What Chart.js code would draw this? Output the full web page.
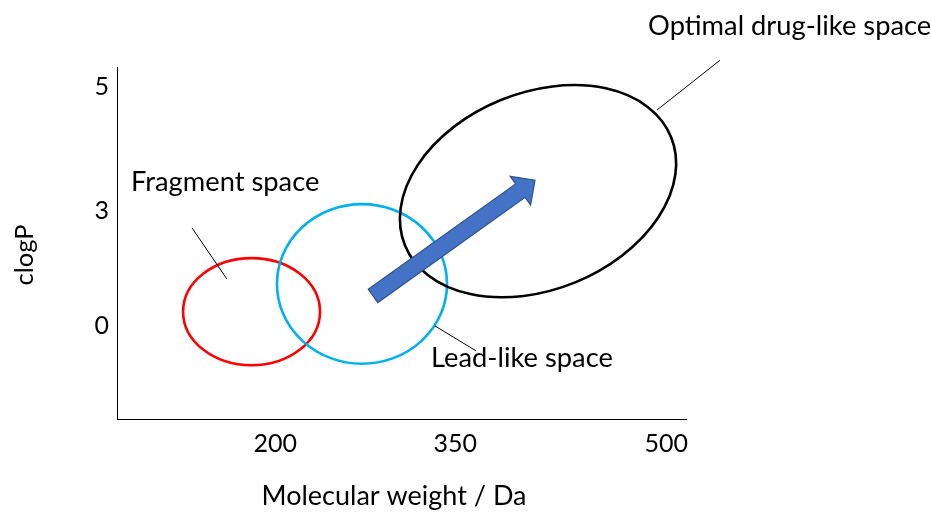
<!DOCTYPE html>
<html>
<head>
<meta charset="utf-8">
<script src="https://cdn.jsdelivr.net/npm/chart.js@4.4.1/dist/chart.umd.min.js"></script>
<style>
  html, body { margin: 0; padding: 0; background: #ffffff; }
  #wrap { width: 931px; height: 513px; }
</style>
</head>
<body>
<div id="wrap"><canvas id="c" width="931" height="513"></canvas></div>
<script>
// ---- Axis ranges and ticks (schematic axes) ----
const xRange = [68, 542.5];          // molecular weight, Da
const yRange = [-1.946, 5.418];      // clogP
const xTickValues = [200, 350, 526];
const xTickLabels = ['200', '350', '500'];
const yTickValues = [5, 2.41, 0];
const yTickLabels = ['5', '3', '0'];
const xTitle = 'Molecular weight / Da';
const yTitle = 'clogP';

// ---- Regions (ellipses) in data units ----
const regionNames      = ['Fragment space', 'Lead-like space', 'Optimal drug-like space'];
const regionCenterMW   = [180.2, 272.3, 419.1];
const regionCenterLogP = [0.30, 0.88, 2.82];
const regionHalfMW     = [57.1, 70.9, 119.8];
const regionHalfLogP   = [1.12, 1.67, 2.06];
const regionTiltDeg    = [0, 0, 22.2];
const regionColors     = ['#ff0000', '#00b0f0', '#000000'];

// ---- Region labels (left anchor) in data units ----
const labelMW   = [79.7, 329.9, 510.9];
const labelLogP = [3.01, -0.67, 6.28];

// ---- Leader lines from label to region, data units ----
const leaderFromMW   = [130.6, 333.2, 570.9];
const leaderFromLogP = [2.05, 0.00, 5.56];
const leaderToMW     = [159.7, 367.4, 518.4];
const leaderToLogP   = [0.98, -0.52, 4.52];

// ---- Progression arrow, data units ----
const arrowFromMW = 281.5, arrowFromLogP = 0.63;
const arrowToMW = 416.6, arrowToLogP = 3.05;

const FONT = 'Lato, "Open Sans", sans-serif';

const leaderDatasets = leaderFromMW.map((x0, i) => ({
  label: regionNames[i],
  data: [{ x: x0, y: leaderFromLogP[i] }, { x: leaderToMW[i], y: leaderToLogP[i] }],
  showLine: true,
  borderColor: '#000000',
  borderWidth: 1,
  pointRadius: 0,
  clip: false
}));

const diagramPlugin = {
  id: 'diagram',
  beforeDatasetsDraw(chart) {
    const { ctx, scales: { x, y } } = chart;
    ctx.save();
    regionNames.forEach((name, i) => {
      const cx = x.getPixelForValue(regionCenterMW[i]);
      const cy = y.getPixelForValue(regionCenterLogP[i]);
      const rx = Math.abs(x.getPixelForValue(regionCenterMW[i] + regionHalfMW[i]) - cx);
      const ry = Math.abs(y.getPixelForValue(regionCenterLogP[i] + regionHalfLogP[i]) - cy);
      ctx.beginPath();
      ctx.ellipse(cx, cy, rx, ry, -regionTiltDeg[i] * Math.PI / 180, 0, Math.PI * 2);
      ctx.strokeStyle = regionColors[i];
      ctx.lineWidth = 2.6;
      ctx.stroke();
    });
    ctx.restore();
  },
  afterDatasetsDraw(chart) {
    const { ctx, scales: { x, y }, chartArea } = chart;
    ctx.save();
    // arrow
    const x0 = x.getPixelForValue(arrowFromMW), y0 = y.getPixelForValue(arrowFromLogP);
    const x1 = x.getPixelForValue(arrowToMW), y1 = y.getPixelForValue(arrowToLogP);
    const len = Math.hypot(x1 - x0, y1 - y0);
    const ang = Math.atan2(y1 - y0, x1 - x0);
    const shaftHalf = 8.2, headHalf = 17.6, headLen = 18;
    ctx.translate(x0, y0);
    ctx.rotate(ang);
    ctx.beginPath();
    ctx.moveTo(0, -shaftHalf);
    ctx.lineTo(len - headLen, -shaftHalf);
    ctx.lineTo(len - headLen, -headHalf);
    ctx.lineTo(len, 0);
    ctx.lineTo(len - headLen, headHalf);
    ctx.lineTo(len - headLen, shaftHalf);
    ctx.lineTo(0, shaftHalf);
    ctx.closePath();
    ctx.fillStyle = '#4472c4';
    ctx.fill();
    ctx.strokeStyle = '#2f528f';
    ctx.lineWidth = 1.2;
    ctx.stroke();
    ctx.setTransform(1, 0, 0, 1, 0, 0);
    // region labels
    ctx.fillStyle = '#000000';
    ctx.font = '27.3px ' + FONT;
    ctx.textAlign = 'left';
    ctx.textBaseline = 'middle';
    regionNames.forEach((name, i) => {
      ctx.fillText(name, x.getPixelForValue(labelMW[i]), y.getPixelForValue(labelLogP[i]));
    });
    // axis titles
    ctx.font = '27px ' + FONT;
    ctx.textAlign = 'center';
    ctx.fillText(xTitle, chartArea.left + 277, chartArea.bottom + 77);
    ctx.font = '25.5px ' + FONT;
    ctx.translate(chartArea.left - 92, chartArea.top + 188);
    ctx.rotate(-Math.PI / 2);
    ctx.fillText(yTitle, 0, 0);
    ctx.restore();
  }
};

new Chart(document.getElementById('c'), {
  type: 'scatter',
  data: { datasets: leaderDatasets },
  options: {
    responsive: false,
    animation: false,
    devicePixelRatio: 1,
    layout: { padding: { left: 0, top: 67, right: 245, bottom: 0 } },
    plugins: { legend: { display: false }, tooltip: { enabled: false } },
    scales: {
      x: {
        type: 'linear',
        min: xRange[0], max: xRange[1],
        grid: { display: false, drawTicks: false },
        border: { display: true, color: '#000000', width: 1 },
        ticks: {
          autoSkip: false, maxRotation: 0, padding: 10, color: '#000000',
          font: { family: FONT, size: 25 },
          callback: (v, i) => xTickLabels[i]
        },
        afterBuildTicks: s => { s.ticks = xTickValues.map(v => ({ value: v })); },
        afterFit: s => { s.height = 94; }
      },
      y: {
        type: 'linear',
        min: yRange[0], max: yRange[1],
        grid: { display: false, drawTicks: false },
        border: { display: true, color: '#000000', width: 1 },
        ticks: {
          autoSkip: false, padding: 8, color: '#000000',
          font: { family: FONT, size: 25 },
          callback: (v, i) => yTickLabels[i]
        },
        afterBuildTicks: s => { s.ticks = yTickValues.map(v => ({ value: v })); },
        afterFit: s => { s.width = 117; }
      }
    }
  },
  plugins: [diagramPlugin]
});
</script>
</body>
</html>
